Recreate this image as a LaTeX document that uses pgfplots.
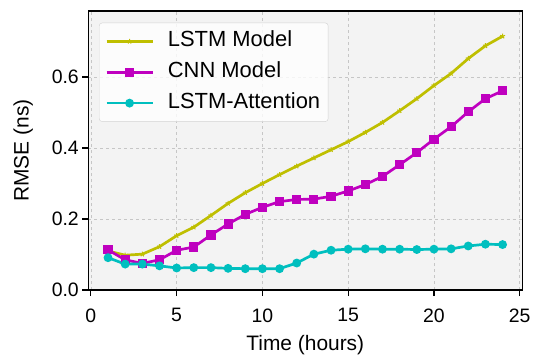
\documentclass[border=0pt]{standalone}
\usepackage{fontspec}
\setmainfont{Liberation Sans}
\usepackage{pgfplots}
\pgfplotsset{compat=1.18}
\definecolor{colY}{rgb}{0.75,0.75,0}
\definecolor{colM}{rgb}{0.75,0,0.75}
\definecolor{colC}{rgb}{0,0.75,0.75}
\definecolor{bg}{RGB}{243,243,243}
\begin{document}
\begin{tikzpicture}
\path (0,0) rectangle (534bp,358bp);
\begin{axis}[
 at={(88.3bp,68bp)}, anchor=south west,
 width=434bp, height=279bp, scale only axis,
 xmin=-0.15, xmax=25.15, ymin=0, ymax=0.786,
 axis background/.style={fill=bg},
 xtick={0,5,10,15,20,25}, ytick={0,0.2,0.4,0.6},
 yticklabel style={/pgf/number format/.cd, fixed, fixed zerofill, precision=1},
 xticklabel style={yshift=-9bp},
 /pgf/number format/assume math mode=true,
 tick align=outside, tick pos=left, major tick length=6bp,
 grid=major, major grid style={dashed, gray!45, line width=0.6bp},
 axis line style={line width=1.1bp},
 tick style={black, line width=1.1bp},
 ticklabel style={font=\fontsize{19.5}{22}\selectfont},
 label style={font=\fontsize{21}{24}\selectfont},
 xlabel={Time (hours)}, ylabel={RMSE (ns)},
 xlabel style={yshift=-6bp},
 ylabel style={yshift=12bp},
 legend style={at={(0.0247,0.958)}, anchor=north west, draw=gray!35, fill=white, fill opacity=0.8, text opacity=1, rounded corners=3bp, font=\fontsize{22}{26}\selectfont, inner xsep=6bp, inner ysep=6bp, row sep=6bp, column sep=12bp, nodes={inner sep=2bp, text depth=5bp}},
 legend cell align=left,
 legend image code/.code={%
   \draw[#1, mark=none, line width=2.7bp, opacity=1] (0bp,0bp) -- (46bp,0bp);
   \draw[#1, opacity=1, fill opacity=1] plot[only marks] coordinates {(23bp,0bp)};},
]
\addplot[colY, line width=2.7bp, mark=star, mark size=2.6bp, mark options={solid, line width=1bp}] coordinates {
(1,0.110)(2,0.098)(3,0.101)(4,0.122)(5,0.153)(6,0.177)(7,0.210)(8,0.244)(9,0.274)(10,0.300)(11,0.325)(12,0.349)(13,0.372)(14,0.395)(15,0.418)(16,0.444)(17,0.472)(18,0.505)(19,0.539)(20,0.576)(21,0.610)(22,0.652)(23,0.688)(24,0.715)};
\addlegendentry{LSTM Model}
\addplot[colM, line width=2.7bp, mark=square*, mark size=3.2bp, mark options={solid}] coordinates {
(1,0.113)(2,0.085)(3,0.075)(4,0.085)(5,0.112)(6,0.121)(7,0.155)(8,0.186)(9,0.213)(10,0.233)(11,0.249)(12,0.255)(13,0.256)(14,0.264)(15,0.279)(16,0.297)(17,0.320)(18,0.353)(19,0.387)(20,0.425)(21,0.460)(22,0.502)(23,0.539)(24,0.561)};
\addlegendentry{CNN Model}
\addplot[colC, line width=2.7bp, mark=*, mark size=3bp, mark options={solid}] coordinates {
(1,0.091)(2,0.073)(3,0.073)(4,0.068)(5,0.062)(6,0.063)(7,0.063)(8,0.061)(9,0.060)(10,0.060)(11,0.060)(12,0.076)(13,0.101)(14,0.112)(15,0.115)(16,0.116)(17,0.115)(18,0.115)(19,0.114)(20,0.115)(21,0.116)(22,0.124)(23,0.129)(24,0.128)};
\addlegendentry{LSTM-Attention}
\end{axis}
\end{tikzpicture}
\end{document}
